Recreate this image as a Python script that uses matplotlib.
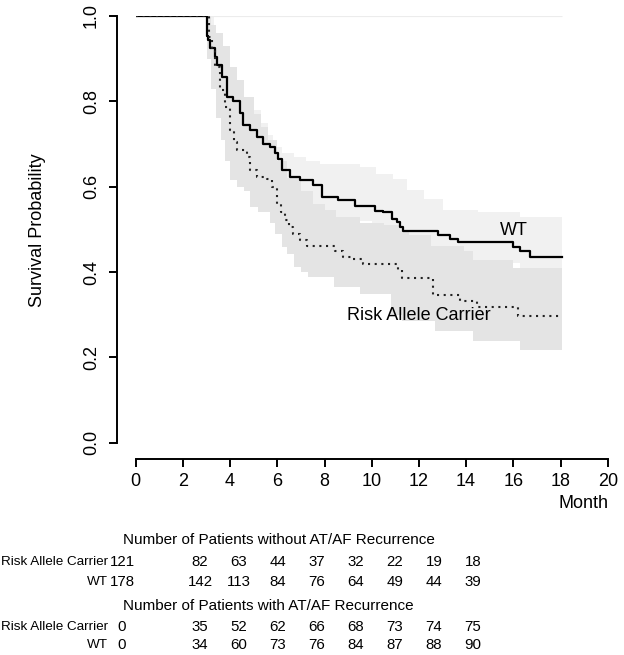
import numpy as np
import matplotlib.pyplot as plt

plt.rcParams['font.family'] = ['Liberation Sans', 'DejaVu Sans']

# Kaplan-Meier step curves (month, survival)
wt_t = [0, 3.03, 3.08, 3.15, 3.36, 3.43, 3.64, 3.86, 4.13, 4.42, 4.56, 4.84, 5.13, 5.41,
        5.69, 5.90, 6.05, 6.19, 6.54, 6.96, 7.53, 7.88, 8.58, 9.29, 10.14, 10.49, 10.85,
        11.06, 11.20, 11.34, 12.82, 13.32, 13.67, 16.00, 16.28, 16.71]
wt_s = [1.0, 0.952, 0.944, 0.925, 0.905, 0.885, 0.858, 0.811, 0.800, 0.772, 0.744, 0.733,
        0.717, 0.701, 0.693, 0.680, 0.665, 0.639, 0.623, 0.615, 0.603, 0.576, 0.568, 0.554,
        0.544, 0.540, 0.525, 0.517, 0.505, 0.495, 0.486, 0.478, 0.470, 0.458, 0.450, 0.436]

rc_t = [0, 3.10, 3.22, 3.36, 3.57, 3.78, 4.00, 4.15, 4.28, 4.70, 4.84, 5.13, 5.55, 5.76,
        5.97, 6.15, 6.33, 6.50, 6.68, 6.96, 7.25, 8.45, 8.80, 9.22, 9.64, 11.10, 11.27,
        12.60, 13.75, 14.45, 16.21]
rc_s = [1.0, 0.95, 0.92, 0.881, 0.827, 0.787, 0.733, 0.705, 0.686, 0.670, 0.639, 0.623,
        0.619, 0.599, 0.560, 0.540, 0.521, 0.505, 0.490, 0.474, 0.462, 0.450, 0.435, 0.431,
        0.419, 0.405, 0.386, 0.345, 0.333, 0.317, 0.298]
t_end = 18.05

# confidence bands
wu_t = [3.0, 3.3, 3.6, 3.9, 4.1, 4.3, 4.55, 4.8, 5.0, 5.3, 5.6, 5.8, 6.2, 6.7, 7.2, 7.8,
        9.5, 10.2, 10.9, 11.5, 12.2, 13.0, 14.5, 16.3]
wu_s = [1.0, 0.96, 0.92, 0.88, 0.86, 0.83, 0.81, 0.79, 0.78, 0.75, 0.72, 0.693, 0.68, 0.67,
        0.66, 0.654, 0.646, 0.63, 0.619, 0.592, 0.57, 0.545, 0.54, 0.53]
wl_t = [3.0, 3.5, 4.0, 4.5, 5.0, 6.0, 7.0, 8.0, 10.0, 11.3, 13.0, 16.3]
wl_s = [0.92, 0.83, 0.75, 0.69, 0.66, 0.58, 0.55, 0.52, 0.48, 0.44, 0.42, 0.37]

ru_t = [3.0, 3.2, 3.4, 3.7, 4.0, 4.3, 4.6, 5.0, 5.3, 5.6, 6.0, 6.4, 7.0, 7.5, 8.0, 8.5,
        9.5, 10.5, 11.2, 11.6, 12.5, 13.9, 14.3, 16.0]
ru_s = [1.0, 0.98, 0.96, 0.93, 0.88, 0.85, 0.81, 0.77, 0.74, 0.71, 0.66, 0.62, 0.59, 0.56,
        0.545, 0.53, 0.515, 0.51, 0.495, 0.486, 0.46, 0.45, 0.427, 0.41]
rl_t = [3.0, 3.2, 3.4, 3.6, 3.8, 4.0, 4.3, 4.6, 4.85, 5.2, 5.7, 5.9, 6.2, 6.4, 6.7, 7.0, 7.3,
        8.4, 9.5, 10.8, 11.3, 12.7, 14.3, 16.3]
rl_s = [0.90, 0.83, 0.76, 0.71, 0.66, 0.615, 0.60, 0.59, 0.552, 0.54, 0.514, 0.49, 0.458, 0.443,
        0.411, 0.40, 0.388, 0.364, 0.349, 0.30, 0.286, 0.262, 0.239, 0.218]

# numbers at risk table
table_groups = ['Risk Allele Carrier', 'WT']
without_recur = [[121, 82, 63, 44, 37, 32, 22, 19, 18],
                 [178, 142, 113, 84, 76, 64, 49, 44, 39]]
with_recur = [[0, 35, 52, 62, 66, 68, 73, 74, 75],
              [0, 34, 60, 73, 76, 84, 87, 88, 90]]

W, H = 624, 655
fig = plt.figure(figsize=(W / 100, H / 100), dpi=100)
ax = fig.add_axes([135.7 / W, 1 - 442.7 / H, 472.0 / W, 426.7 / H])


def extend(t, s):
    return np.array(list(t) + [t_end]), np.array(list(s) + [s[-1]])


def stepfill(ut, us, lt, ls, color):
    ut, us, lt, ls = map(np.array, (ut, us, lt, ls))
    grid = np.unique(np.concatenate([ut, lt, [t_end]]))
    up = us[np.searchsorted(ut, grid, side='right') - 1]
    lo = ls[np.searchsorted(lt, grid, side='right') - 1]
    ax.fill_between(grid, lo, up, step='post', color=color, lw=0, zorder=1)


stepfill(wu_t, wu_s, wl_t, wl_s, '#f1f1f1')
stepfill(ru_t, ru_s, rl_t, rl_s, '#e4e4e4')
ax.hlines(1.0, 3.0, t_end, color='#ececec', lw=0.8, zorder=1)

tt, ss = extend(wt_t, wt_s)
ax.step(tt, ss, where='post', color='black', lw=1.6, zorder=3)
tt, ss = extend(rc_t, rc_s)
ax.step(tt, ss, where='post', color='#222222', lw=1.5, ls=(0, (1, 2.2)), zorder=3)

ax.text(15.44, 0.497, 'WT', fontsize=13, va='center', ha='left')
ax.text(8.94, 0.298, 'Risk Allele Carrier', fontsize=13, va='center', ha='left')

ax.set_xlim(0, 20)
ax.set_ylim(0, 1)
for s in ['top', 'right']:
    ax.spines[s].set_visible(False)
ax.spines['left'].set_position(('outward', 13.7))
ax.spines['bottom'].set_position(('outward', 12))
ax.spines['left'].set_bounds(0, 1)
ax.spines['bottom'].set_bounds(0, 20)
ax.spines['left'].set_linewidth(1.4)
ax.spines['bottom'].set_linewidth(1.4)
ax.set_xticks(range(0, 21, 2))
ax.set_yticks([0, 0.2, 0.4, 0.6, 0.8, 1.0])
ax.set_yticklabels(['0.0', '0.2', '0.4', '0.6', '0.8', '1.0'], rotation=90, va='center')
ax.tick_params(axis='both', length=5.5, width=1.4, labelsize=13, direction='out')
ax.tick_params(axis='x', pad=4)
ax.tick_params(axis='y', pad=6.5)

fig.text(38 / W, 1 - 230 / H, 'Survival Probability', rotation=90, fontsize=13,
         ha='center', va='center')
fig.text(609 / W, 1 - 503 / H, 'Month', fontsize=13, ha='right', va='center')


def px(x, y):
    return x / W, 1 - y / H


slots = [0, 2, 3, 4, 5, 6, 7, 8, 9]
col_x = [122 + 39 * k for k in slots]

fig.text(*px(123, 540), 'Number of Patients without AT/AF Recurrence', fontsize=11,
         ha='left', va='center')
fig.text(*px(123, 606), 'Number of Patients with AT/AF Recurrence', fontsize=11,
         ha='left', va='center')
for rows, ys in [(without_recur, [562, 582]), (with_recur, [627, 645])]:
    for name, vals, y in zip(table_groups, rows, ys):
        fig.text(*px(108, y), name, fontsize=9.7, ha='right', va='center')
        for x, v in zip(col_x, vals):
            fig.text(*px(x, y), str(v), fontsize=10.8, ha='center', va='center')

fig.savefig('out.png', dpi=100)
